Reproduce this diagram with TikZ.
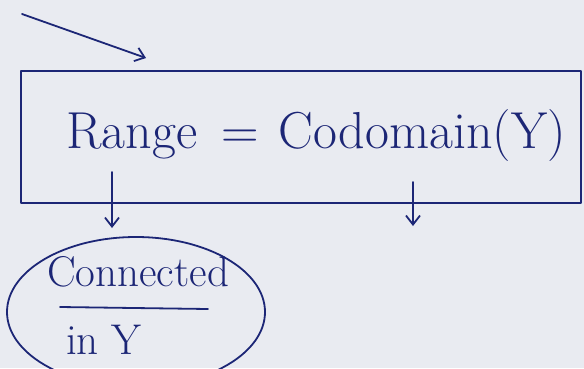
\documentclass[tikz,border=0pt]{standalone}
\usetikzlibrary{arrows.meta,shapes.geometric}
\definecolor{ink}{RGB}{28,38,118}
\definecolor{paper}{RGB}{233,235,241}
\tikzset{
  pen/.style={draw=ink,line width=1.8pt,line cap=round,line join=round},
  arr/.style={pen,-{Straight Barb[length=9pt,width=14pt,line width=1.8pt]}},
  handtext/.style={text=ink,inner sep=0pt}
}
\begin{document}
\begin{tikzpicture}[x=1pt,y=-1pt]
  \fill[paper] (0,0) rectangle (584,368);
  \useasboundingbox (0,0) rectangle (584,368);
  % the statement box
  \node[pen,rectangle,minimum width=560pt,minimum height=132pt,anchor=north west] (box) at (20,70) {};
  \node[handtext,font=\fontsize{52}{56}\selectfont] (eq) at (316,136) {Range\hspace{24pt}=\hspace{20pt}Codomain(Y)};
  % pointer from top left
  \coordinate (start) at (22,14);
  \coordinate (tip) at (146,58);
  \draw[arr] (start) to (tip);
  % arrows out of the box
  \coordinate (a1) at (112,172);
  \coordinate (b1) at (112,228);
  \coordinate (a2) at (413,182);
  \coordinate (b2) at (413,226);
  \begin{scope}[arr]
    \draw (a1) to (b1);
    \draw (a2) to (b2);
  \end{scope}
  % the oval note
  \node[pen,ellipse,minimum width=258pt,minimum height=150pt] (note) at (136,312) {};
  \node[handtext,font=\fontsize{43}{46}\selectfont] (conn) at (138,272) {Connected};
  \coordinate (u1) at (60,307);
  \coordinate (u2) at (208,309);
  \draw[pen] (u1) to (u2);
  \node[handtext,font=\fontsize{43}{46}\selectfont] (iny) at (104,340) {in Y};
\end{tikzpicture}
\end{document}
